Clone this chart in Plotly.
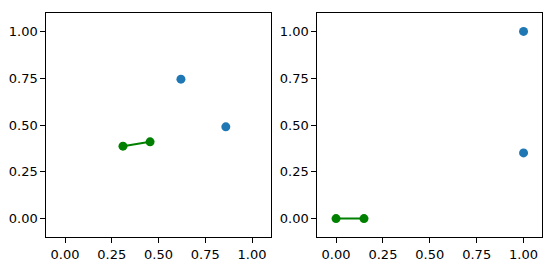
import plotly.graph_objects as go

# Data
left_blue_x = [0.62, 0.86]
left_blue_y = [0.745, 0.49]
left_green_x = [0.31, 0.455]
left_green_y = [0.387, 0.41]

right_blue_x = [1.0, 1.0]
right_blue_y = [1.0, 0.351]
right_green_x = [0.0, 0.149]
right_green_y = [0.0, 0.0]

tick_vals = [0.0, 0.25, 0.5, 0.75, 1.0]
tick_text = ["0.00", "0.25", "0.50", "0.75", "1.00"]

BLUE = "#1f77b4"
GREEN = "green"

W, H = 558, 271
fig = go.Figure()

fig.add_trace(go.Scatter(x=left_blue_x, y=left_blue_y, mode="markers",
                         marker=dict(color=BLUE, size=9), xaxis="x", yaxis="y"))
fig.add_trace(go.Scatter(x=left_green_x, y=left_green_y, mode="lines+markers",
                         line=dict(color=GREEN, width=2),
                         marker=dict(color=GREEN, size=9), xaxis="x", yaxis="y"))
fig.add_trace(go.Scatter(x=right_blue_x, y=right_blue_y, mode="markers",
                         marker=dict(color=BLUE, size=9), xaxis="x2", yaxis="y2"))
fig.add_trace(go.Scatter(x=right_green_x, y=right_green_y, mode="lines+markers",
                         line=dict(color=GREEN, width=2),
                         marker=dict(color=GREEN, size=9), xaxis="x2", yaxis="y2"))

ax_common = dict(range=[-0.1, 1.1], showgrid=False, zeroline=False,
                 showline=True, linecolor="black", linewidth=1, mirror=True,
                 ticks="outside", ticklen=5, tickcolor="black", tickwidth=1,
                 tickvals=tick_vals, ticktext=tick_text,
                 tickfont=dict(family="DejaVu Sans", size=13, color="black"))

ydom = [1 - 237.3 / H, 1 - 12.7 / H]
fig.update_layout(
    width=W, height=H,
    margin=dict(l=0, r=0, t=0, b=0),
    paper_bgcolor="white", plot_bgcolor="white",
    showlegend=False,
    xaxis=dict(domain=[46.3 / W, 270.7 / W], anchor="y", **ax_common),
    yaxis=dict(domain=ydom, anchor="x", **ax_common),
    xaxis2=dict(domain=[317.3 / W, 542.3 / W], anchor="y2", **ax_common),
    yaxis2=dict(domain=ydom, anchor="x2", **ax_common),
)

fig.write_html("out.html")
